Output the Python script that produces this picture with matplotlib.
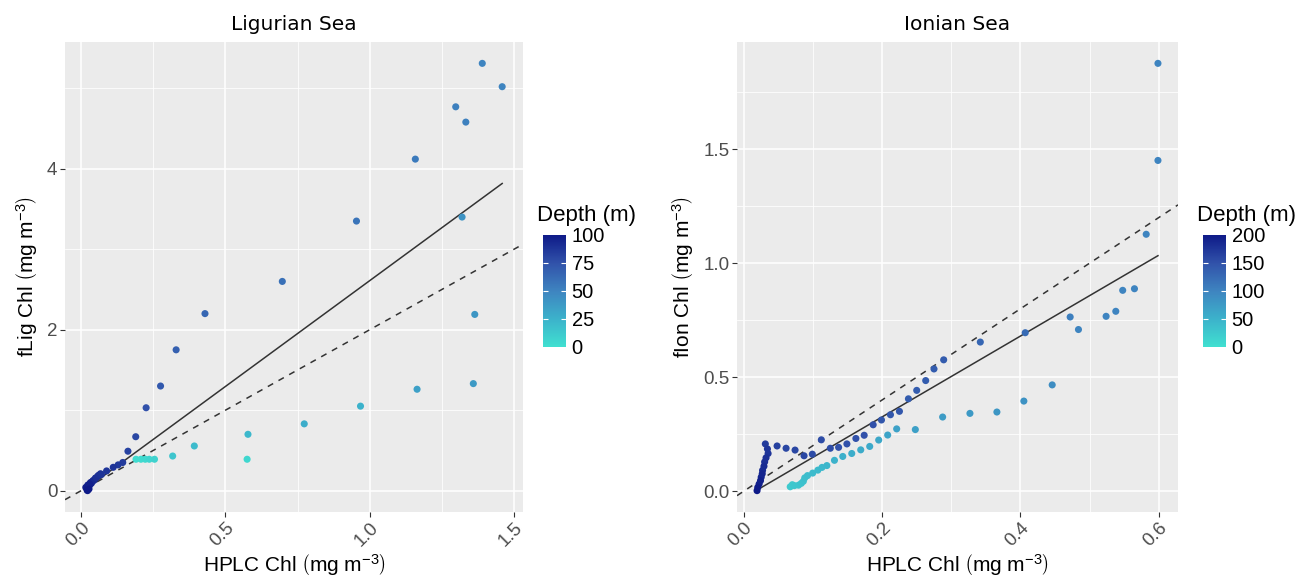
import numpy as np
import matplotlib
matplotlib.use("Agg")
import matplotlib.pyplot as plt
from matplotlib.colors import LinearSegmentedColormap, Normalize
from matplotlib.cm import ScalarMappable

plt.rcParams['font.family'] = ['Liberation Sans', 'DejaVu Sans']
plt.rcParams['mathtext.fontset'] = 'custom'
plt.rcParams['mathtext.rm'] = 'Liberation Sans'
plt.rcParams['mathtext.it'] = 'Liberation Sans:italic'

# Ligurian Sea: HPLC chl, fluorescence chl, depth (m)
lig_hplc = [1.390, 1.459, 1.298, 1.333, 1.158, 0.954, 1.320, 0.697, 0.429, 1.364,
            0.329, 0.275, 0.225, 0.189, 0.162,
            1.164, 1.359, 0.968, 0.773, 0.578, 0.392, 0.317, 0.575,
            0.190, 0.207, 0.222, 0.236, 0.254,
            0.144, 0.128, 0.111, 0.088, 0.067, 0.058, 0.049, 0.041, 0.032, 0.023,
            0.016, 0.020, 0.025, 0.028, 0.035, 0.038, 0.045, 0.052, 0.060, 0.070,
            0.022, 0.030, 0.027]
lig_fchl = [5.31, 5.02, 4.77, 4.58, 4.12, 3.35, 3.40, 2.60, 2.20, 2.19,
            1.75, 1.30, 1.03, 0.67, 0.49,
            1.26, 1.33, 1.05, 0.83, 0.70, 0.555, 0.43, 0.39,
            0.39, 0.39, 0.39, 0.39, 0.39,
            0.35, 0.32, 0.29, 0.245, 0.21, 0.18, 0.155, 0.125, 0.10, 0.07,
            0.04, 0.01, 0.03, 0.06, 0.09, 0.11, 0.13, 0.16, 0.19, 0.20,
            0.0, 0.08, 0.02]
lig_depth = [50, 50, 52, 52, 55, 58, 42, 60, 65, 40,
             68, 72, 75, 80, 82,
             35, 38, 25, 28, 22, 20, 15, 5,
             2, 3, 4, 6, 8,
             85, 86, 88, 88, 90, 90, 92, 93, 95, 96,
             98, 100, 99, 97, 96, 94, 93, 91, 90, 89,
             100, 97, 100]

# Ionian Sea
ion_hplc = [0.599, 0.599, 0.582, 0.565, 0.548, 0.538, 0.524, 0.472, 0.484, 0.407,
            0.342, 0.289, 0.275, 0.263, 0.250, 0.238, 0.225, 0.212, 0.199, 0.187,
            0.174, 0.162, 0.149, 0.137, 0.125, 0.112, 0.099, 0.087, 0.074, 0.061,
            0.048, 0.031, 0.034, 0.035, 0.032, 0.030, 0.029, 0.027, 0.0265, 0.025,
            0.024, 0.022, 0.020, 0.019,
            0.067, 0.070, 0.073, 0.079, 0.083, 0.086, 0.088, 0.092, 0.0995, 0.107,
            0.113, 0.120, 0.131, 0.143, 0.156, 0.169, 0.182, 0.195, 0.208, 0.221,
            0.248, 0.2875, 0.327, 0.366, 0.405, 0.446]
ion_fchl = [1.877, 1.451, 1.127, 0.888, 0.881, 0.789, 0.767, 0.764, 0.709, 0.695,
            0.654, 0.576, 0.536, 0.485, 0.442, 0.405, 0.350, 0.335, 0.312, 0.291,
            0.245, 0.231, 0.207, 0.192, 0.188, 0.225, 0.162, 0.155, 0.180, 0.188,
            0.198, 0.207, 0.185, 0.165, 0.146, 0.128, 0.109, 0.091, 0.076, 0.061,
            0.046, 0.031, 0.016, 0.002,
            0.019, 0.028, 0.024, 0.026, 0.034, 0.043, 0.058, 0.068, 0.079, 0.092,
            0.104, 0.112, 0.135, 0.152, 0.165, 0.181, 0.196, 0.224, 0.246, 0.273,
            0.270, 0.325, 0.341, 0.347, 0.395, 0.466]
ion_depth = [100, 100, 100, 100, 100, 100, 100, 105, 100, 125,
             130, 140, 140, 140, 140, 140, 145, 145, 145, 150,
             150, 150, 150, 150, 155, 155, 155, 160, 160, 160,
             165, 170, 175, 175, 180, 180, 185, 185, 190, 190,
             195, 195, 200, 200,
             25, 25, 28, 30, 32, 34, 36, 38, 40, 42,
             44, 46, 50, 52, 55, 58, 60, 62, 65, 68,
             70, 75, 78, 80, 85, 90]

# regression fits (slope, intercept)
lig_fit = (2.63, -0.02)
ion_fit = (1.773, -0.029)

panels = [
    dict(title="Ligurian Sea", x=lig_hplc, y=lig_fchl, d=lig_depth, fit=lig_fit,
         ylabel=r"fLig Chl $\left(\mathrm{mg\ m^{-3}}\right)$", dmax=100,
         dticks=[0, 25, 50, 75, 100], xticks=[0.0, 0.5, 1.0, 1.5], xminor=[0.25, 0.75, 1.25],
         yticks=[0, 2, 4], yminor=[1, 3, 5], yfmt="{:.0f}",
         left=65, width=458, cb=543),
    dict(title="Ionian Sea", x=ion_hplc, y=ion_fchl, d=ion_depth, fit=ion_fit,
         ylabel=r"fIon Chl $\left(\mathrm{mg\ m^{-3}}\right)$", dmax=200,
         dticks=[0, 50, 100, 150, 200], xticks=[0.0, 0.2, 0.4, 0.6], xminor=[0.1, 0.3, 0.5],
         yticks=[0.0, 0.5, 1.0, 1.5], yminor=[0.25, 0.75, 1.25, 1.75], yfmt="{:.1f}",
         left=737, width=441, cb=1203),
]

cmap = LinearSegmentedColormap.from_list(
    "depth", ["#40E0D0", "#3CB2CB", "#3E84C0", "#3152AA", "#0E1A88"])

W, H = 1306, 579
fig = plt.figure(figsize=(W / 100, H / 100), dpi=100)

for p in panels:
    ax = fig.add_axes([p["left"] / W, 1 - 512 / H, p["width"] / W, 470 / H])
    ax.set_facecolor("#EBEBEB")
    for s in ax.spines.values():
        s.set_visible(False)

    x = np.array(p["x"])
    y = np.array(p["y"])
    norm = Normalize(0, p["dmax"])
    ax.scatter(x, y, c=p["d"], cmap=cmap, norm=norm, s=26, linewidths=0, zorder=3)

    # limits with ggplot-like 5% expansion
    xr = x.max() - x.min()
    yr = y.max() - y.min()
    ax.set_xlim(x.min() - 0.05 * xr, x.max() + 0.05 * xr)
    ax.set_ylim(y.min() - 0.05 * yr, y.max() + 0.05 * yr)

    # 1:2 reference line across the panel, fit line over the data range
    xl = np.array(ax.get_xlim())
    ax.plot(xl, 2 * xl, color="#333333", lw=1.1, ls=(0, (4, 4)), zorder=2)
    xf = np.array([x.min(), x.max()])
    ax.plot(xf, p["fit"][0] * xf + p["fit"][1], color="#333333", lw=1.1, zorder=2)

    ax.set_xticks(p["xticks"])
    ax.set_xticklabels(["{:.1f}".format(v) for v in p["xticks"]], rotation=45,
                       ha="right", rotation_mode="anchor")
    ax.set_yticks(p["yticks"])
    ax.set_yticklabels([p["yfmt"].format(v) for v in p["yticks"]])
    ax.set_xticks(p["xminor"], minor=True)
    ax.set_yticks(p["yminor"], minor=True)
    ax.tick_params(which="major", length=3.5, width=0.8, color="#333333",
                   labelcolor="#4D4D4D", labelsize=13.5, pad=2)
    ax.tick_params(which="minor", length=0)
    ax.grid(which="major", color="white", lw=1.1)
    ax.grid(which="minor", color="white", lw=0.55)
    ax.set_axisbelow(True)

    ax.set_title(p["title"], fontsize=14.5, family="DejaVu Sans", pad=9)
    ax.set_xlabel(r"HPLC Chl $\left(\mathrm{mg\ m^{-3}}\right)$", fontsize=15, labelpad=1)
    ax.set_ylabel(p["ylabel"], fontsize=15, labelpad=5)

    # colour bar legend
    cax = fig.add_axes([p["cb"] / W, 1 - 347 / H, 23 / W, 112 / H])
    cbar = fig.colorbar(ScalarMappable(norm=norm, cmap=cmap), cax=cax)
    cbar.outline.set_visible(False)
    cbar.set_ticks(p["dticks"])
    cax.tick_params(length=0, labelsize=14.5, pad=4)
    for t in p["dticks"][1:-1]:
        cax.hlines(t, 0, 0.2, colors="white", lw=0.8)
        cax.hlines(t, 0.8, 1, colors="white", lw=0.8)
    cax.text(-0.25, 1.08, "Depth (m)", transform=cax.transAxes, ha="left",
             va="bottom", fontsize=16)

fig.savefig("out.png", dpi=100)
